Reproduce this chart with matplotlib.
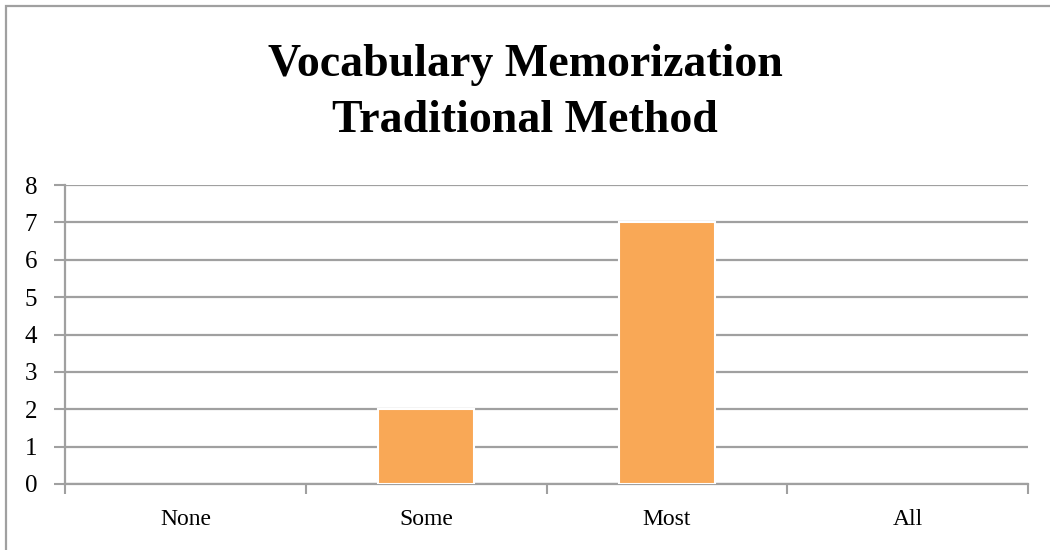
import matplotlib.pyplot as plt
from matplotlib.patches import Rectangle

categories = ['None', 'Some', 'Most', 'All']
values = [0, 2, 7, 0]
title = 'Vocabulary Memorization\nTraditional Method'

plt.rcParams['font.family'] = ['Liberation Serif', 'DejaVu Serif']

fig = plt.figure(figsize=(10.5, 5.5), dpi=100)
ax = fig.add_axes([65 / 1050, 1 - 484 / 550, 963 / 1050, 299 / 550])

# outer chart border (right/bottom edges fall outside the picture)
fig.patches.append(Rectangle((6 / 1050, -0.01), 1.02, 1 - 6 / 550 + 0.01,
                             transform=fig.transFigure, fill=False,
                             edgecolor='#a0a0a0', linewidth=1.6))

x = range(len(categories))
edges = ['white' if v > 0 else 'none' for v in values]
ax.bar(x, values, width=0.4, color='#F9A856', edgecolor=edges, linewidth=1.5, zorder=3)

ax.set_xlim(-0.5, 3.5)
ax.set_ylim(0, 8)
ax.set_yticks(range(0, 9))
ax.yaxis.grid(True, color='#a0a0a0', linewidth=1.6, zorder=0)
ax.set_axisbelow(True)

ax.set_xticks([i - 0.5 for i in range(5)])
ax.set_xticklabels([])
ax.set_xticks(list(x), minor=True)
ax.set_xticklabels(categories, minor=True)
ax.tick_params(axis='x', which='minor', length=0, pad=18, labelsize=17)
ax.tick_params(axis='x', which='major', length=7, width=1.5, color='#a0a0a0')
ax.tick_params(axis='y', length=8, width=1.5, color='#a0a0a0', labelsize=18, pad=12)

for s in ['top', 'right']:
    ax.spines[s].set_visible(False)
for s in ['left', 'bottom']:
    ax.spines[s].set_color('#a0a0a0')
    ax.spines[s].set_linewidth(1.6)

fig.text(0.5, 1 - 93 / 550, title, ha='center', va='center', fontsize=33,
         fontweight='bold', linespacing=1.42)

fig.savefig('out.png', dpi=100)
